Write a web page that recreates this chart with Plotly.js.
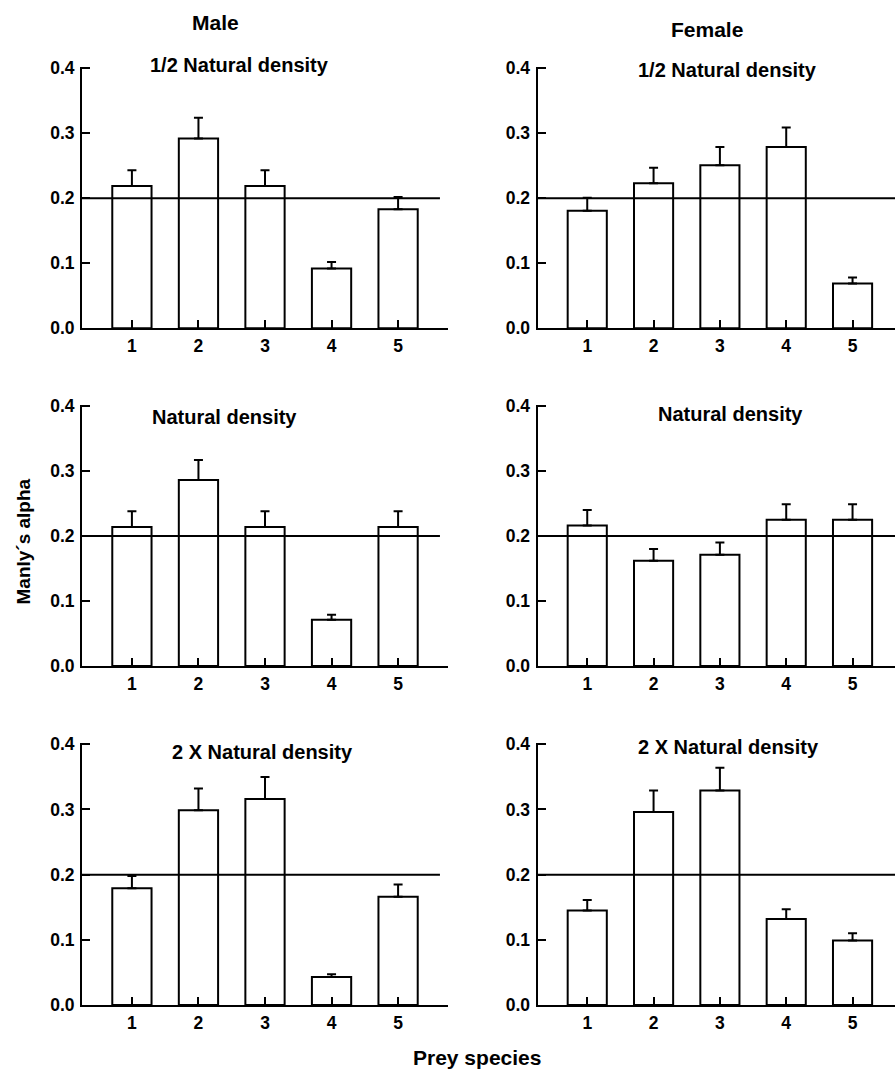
<!DOCTYPE html>
<html>
<head>
<meta charset="utf-8">
<script src="https://cdn.plot.ly/plotly-3.0.1.min.js"></script>
<style>
  html, body { margin: 0; padding: 0; background: #ffffff; overflow: hidden; }
  #chart { width: 895px; height: 1078px; }
</style>
</head>
<body>
<div id="chart"></div>
<script>
// ---- data ----
const categories = [1, 2, 3, 4, 5];
const categoryLabels = ['1', '2', '3', '4', '5'];

const maleHalf      = [0.219, 0.292, 0.219, 0.092, 0.183];
const maleHalfErr   = [0.024, 0.032, 0.024, 0.010, 0.019];
const femaleHalf    = [0.181, 0.223, 0.251, 0.279, 0.069];
const femaleHalfErr = [0.020, 0.024, 0.028, 0.030, 0.009];

const maleNat       = [0.214, 0.286, 0.214, 0.071, 0.214];
const maleNatErr    = [0.024, 0.031, 0.024, 0.008, 0.024];
const femaleNat     = [0.216, 0.162, 0.171, 0.225, 0.225];
const femaleNatErr  = [0.024, 0.018, 0.019, 0.024, 0.024];

const male2x        = [0.179, 0.299, 0.316, 0.043, 0.166];
const male2xErr     = [0.019, 0.033, 0.034, 0.004, 0.019];
const female2x      = [0.145, 0.296, 0.329, 0.132, 0.099];
const female2xErr   = [0.016, 0.033, 0.035, 0.015, 0.011];

const referenceLevel = 0.2;   // equal-preference line (1 / number of prey species)

const yTickValues = [0, 0.1, 0.2, 0.3, 0.4];
const yTickLabels = ['0.0', '0.1', '0.2', '0.3', '0.4'];

const columnTitles = ['Male', 'Female'];
const panelTitles = ['1/2 Natural density', 'Natural density', '2 X Natural density'];
const yAxisTitle = 'Manly´s alpha';
const xAxisTitle = 'Prey species';

// ---- layout helpers ----
const W = 895, H = 1078;
const px = x => x / W;
const py = y => 1 - y / H;
const FONT = '"Liberation Sans", Arial, Helvetica, sans-serif';

const panels = [
  {vals: maleHalf,   err: maleHalfErr,   col: 0, row: 0},
  {vals: femaleHalf, err: femaleHalfErr, col: 1, row: 0},
  {vals: maleNat,    err: maleNatErr,    col: 0, row: 1},
  {vals: femaleNat,  err: femaleNatErr,  col: 1, row: 1},
  {vals: male2x,     err: male2xErr,     col: 0, row: 2},
  {vals: female2x,   err: female2xErr,   col: 1, row: 2},
];

// y range slightly above 0.4 so the inside tick at 0.4 is kept by Plotly
const yMax = 0.402;
const colDomains = [[px(82), px(448)], [px(537.5), 1]];
const colRanges  = [[0.25, 5.75], [0.25, 5.64]];
const rowDomains = [[py(328.3), py(67.0)], [py(666), py(404.7)], [py(1005), py(743.0)]];

const data = [];
const layout = {
  width: W, height: H,
  margin: {l: 0, r: 0, t: 0, b: 0},
  paper_bgcolor: '#ffffff',
  plot_bgcolor: '#ffffff',
  showlegend: false,
  font: {family: FONT, color: '#000000', size: 17},
  shapes: [],
  annotations: []
};

panels.forEach((p, i) => {
  const n = i + 1;
  const xa = 'x' + (n === 1 ? '' : n);
  const ya = 'y' + (n === 1 ? '' : n);
  data.push({
    type: 'bar',
    x: categories,
    y: p.vals,
    xaxis: xa, yaxis: ya,
    width: 0.59,
    marker: {color: '#ffffff', line: {color: '#000000', width: 2}},
    error_y: {type: 'data', symmetric: false, array: p.err,
              arrayminus: p.err.map(() => 0),
              color: '#000000', thickness: 2, width: 4.5},
    hoverinfo: 'skip'
  });
  const axCommon = {
    showline: true, linecolor: '#000000', linewidth: 2,
    showgrid: false, zeroline: false,
    ticks: 'inside', ticklen: 8, tickwidth: 2, tickcolor: '#000000',
    tickfont: {family: FONT, size: 17.5, color: '#000000', weight: 'bold'}
  };
  layout['xaxis' + (n === 1 ? '' : n)] = Object.assign({}, axCommon, {
    domain: colDomains[p.col],
    range: colRanges[p.col],
    anchor: ya,
    tickmode: 'array', tickvals: categories, ticktext: categoryLabels,
    ticklabelstandoff: 1
  });
  layout['yaxis' + (n === 1 ? '' : n)] = Object.assign({}, axCommon, {
    domain: rowDomains[p.row],
    range: [0, yMax],
    anchor: xa,
    tickmode: 'array', tickvals: yTickValues, ticktext: yTickLabels,
    ticklabelstandoff: 2
  });
  layout.shapes.push({
    type: 'line', xref: xa + ' domain', yref: ya,
    x0: 0, x1: p.col === 0 ? 0.978 : 1,
    y0: referenceLevel, y1: referenceLevel,
    line: {color: '#000000', width: 2}, layer: 'above'
  });
});

function ann(text, x, y, size, extra) {
  return Object.assign({
    text: text, xref: 'paper', yref: 'paper',
    x: px(x), y: py(y), xanchor: 'center', yanchor: 'middle',
    showarrow: false,
    font: {family: FONT, size: size, color: '#000000', weight: 'bold'}
  }, extra || {});
}

// column titles
layout.annotations.push(ann(columnTitles[0], 215.5, 23, 21));
layout.annotations.push(ann(columnTitles[1], 707, 29.5, 21));
// panel titles
layout.annotations.push(ann(panelTitles[0], 239.5, 65, 20));
layout.annotations.push(ann(panelTitles[0], 727.5, 70, 20));
layout.annotations.push(ann(panelTitles[1], 224, 416.5, 20));
layout.annotations.push(ann(panelTitles[1], 730, 413.5, 20));
layout.annotations.push(ann(panelTitles[2], 262.5, 751.5, 20));
layout.annotations.push(ann(panelTitles[2], 728.5, 746.5, 20));
// axis titles
layout.annotations.push(ann(yAxisTitle, 22.5, 542, 19, {textangle: -90}));
layout.annotations.push(ann(xAxisTitle, 477, 1057, 21));

Plotly.newPlot('chart', data, layout, {staticPlot: true, displayModeBar: false});
</script>
</body>
</html>
